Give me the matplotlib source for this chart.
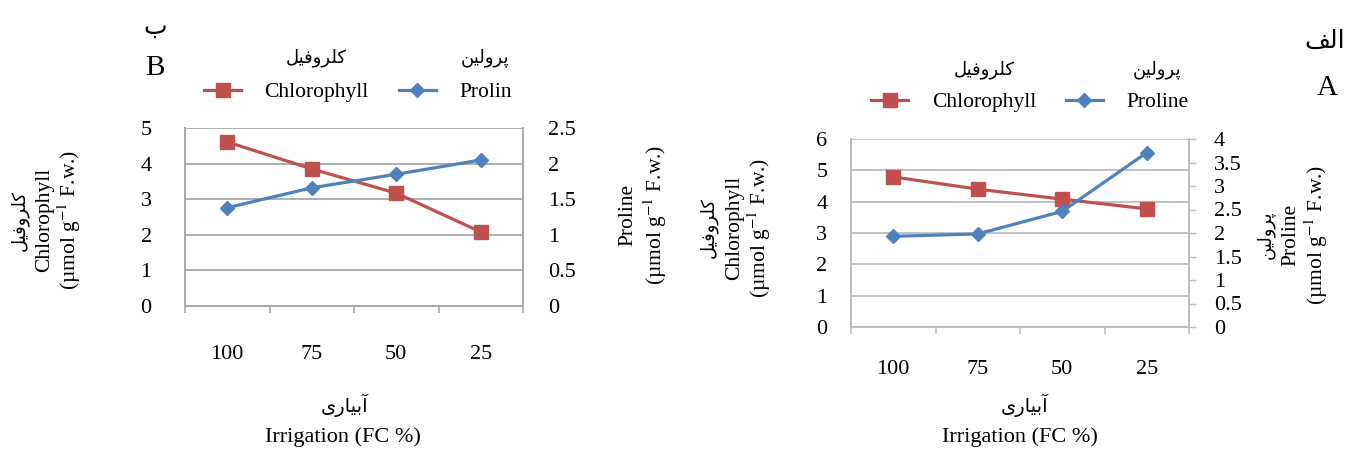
import matplotlib
matplotlib.use('Agg')
import matplotlib.pyplot as plt
from matplotlib.ticker import MultipleLocator, FuncFormatter

plt.rcParams['font.family'] = ['Liberation Serif', 'DejaVu Sans']
plt.rcParams['mathtext.fontset'] = 'stix'

# data
irrigation = ['100', '75', '50', '25']
chl_b = [4.61, 3.85, 3.17, 2.08]
pro_b = [1.38, 1.66, 1.85, 2.05]
chl_a = [4.79, 4.40, 4.08, 3.77]
pro_a = [1.93, 1.98, 2.46, 3.71]

fa_chl = 'کلروفیل'
fa_pro = 'پرولین'
fa_irr = 'آبیاری'
fa_b = 'ب'
fa_a = 'الف'
unit = r'(µmol g$^{-1}$ F.w.)'

RED = '#c0504d'
BLUE = '#4f81bd'
W, H = 1349, 450

# matplotlib has no Arabic shaping: pick presentation forms by hand
# (isolated, final, initial, medial)
FORMS = {
    'ک': ('\uFB8E', '\uFB8F', '\uFB90', '\uFB91'),
    'ل': ('\uFEDD', '\uFEDE', '\uFEDF', '\uFEE0'),
    'ر': ('\uFEAD', '\uFEAE', None, None),
    'و': ('\uFEED', '\uFEEE', None, None),
    'ف': ('\uFED1', '\uFED2', '\uFED3', '\uFED4'),
    'ی': ('\uFBFC', '\uFBFD', '\uFBFE', '\uFBFF'),
    'پ': ('\uFB56', '\uFB57', '\uFB58', '\uFB59'),
    'ن': ('\uFEE5', '\uFEE6', '\uFEE7', '\uFEE8'),
    'آ': ('\uFE81', '\uFE82', None, None),
    'ب': ('\uFE8F', '\uFE90', '\uFE91', '\uFE92'),
    'ا': ('\uFE8D', '\uFE8E', None, None),
}


def shape(word):
    out = []
    for i, c in enumerate(word):
        if c not in FORMS:
            out.append(c)
            continue
        prev = word[i - 1] if i > 0 else None
        nxt = word[i + 1] if i + 1 < len(word) else None
        join_prev = prev in FORMS and FORMS[prev][2] is not None
        join_next = nxt in FORMS and FORMS[c][2] is not None
        iso, fin, ini, med = FORMS[c]
        if join_prev and join_next:
            out.append(med)
        elif join_prev:
            out.append(fin)
        elif join_next:
            out.append(ini)
        else:
            out.append(iso)
    return ''.join(reversed(out))


def px(x, y):
    return x / W, 1 - y / H


fig = plt.figure(figsize=(W / 100, H / 100), dpi=100)


def panel(rect, chl, pro, chl_max, pro_max, grid_color, xpad, lpad, rpad, right_ticks):
    ax = fig.add_axes(rect)
    x = range(len(irrigation))
    l1, = ax.plot(x, chl, color=RED, marker='s', ms=9.5, lw=2.3, zorder=3)
    ax2 = ax.twinx()
    l2, = ax2.plot(x, pro, color=BLUE, marker='D', ms=7, lw=2.3, zorder=3)

    ax.set_xlim(-0.5, len(irrigation) - 0.5)
    ax.set_xticks(list(x), irrigation)
    ax.set_xticks([i - 0.5 for i in range(len(irrigation) + 1)], minor=True)
    ax.tick_params(axis='x', which='major', length=0, pad=xpad, labelsize=16)
    ax.tick_params(axis='x', which='minor', length=5, width=1.2, color=grid_color)

    fmt = FuncFormatter(lambda v, _: f'{v:g}')
    ax.set_ylim(0, chl_max)
    ax.yaxis.set_major_locator(MultipleLocator(1))
    ax.yaxis.set_major_formatter(fmt)
    ax.tick_params(axis='y', length=0, pad=lpad, labelsize=16)
    ax.grid(axis='y', color=grid_color, lw=1.3)
    ax.set_axisbelow(True)

    ax2.set_ylim(0, pro_max)
    ax2.yaxis.set_major_locator(MultipleLocator(0.5))
    ax2.yaxis.set_major_formatter(fmt)
    ax2.tick_params(axis='y', length=5 if right_ticks else 0, width=1, color=grid_color,
                    pad=rpad, labelsize=16)

    for a in (ax, ax2):
        a.spines['top'].set_visible(False)
        for s in ('left', 'right', 'bottom'):
            a.spines[s].set_color(grid_color)
            a.spines[s].set_linewidth(1.3)
    return l1, l2


def legend(handles, labels, center, fa_labels, fa_dy):
    leg = fig.legend(handles, labels, loc='center', bbox_to_anchor=px(*center), ncol=2,
                     frameon=False, fontsize=15.5, handlelength=1.7, handletextpad=1.1,
                     columnspacing=1.4)
    fig.canvas.draw()
    for t, fa in zip(leg.get_texts(), fa_labels):
        bb = t.get_window_extent()
        cx = (bb.x0 + bb.x1) / 2
        cy = (bb.y0 + bb.y1) / 2
        fig.text(cx / W, (cy + fa_dy) / H, shape(fa), fontsize=13,
                 ha='center', va='center')


def vlabel(lines):
    # one rotated line per (x, y, text, size)
    for x, y, s, size in lines:
        fig.text(*px(x, y), s, rotation=90, ha='center', va='center', fontsize=size)


# panel B (left)
lb = panel([185 / W, 144 / H, 338 / W, 178 / H], chl_b, pro_b, 5, 2.5,
           '#a9a9a9', 28, 24, 18, False)
legend(lb, ['Chlorophyll', 'Prolin'], (358, 92), [fa_chl, fa_pro], 35)

# panel A (right)
la = panel([851 / W, 123 / H, 338 / W, 188 / H], chl_a, pro_a, 6, 4,
           '#bdbdbd', 24, 17, 13, True)
legend(la, ['Chlorophyll', 'Proline'], (1030, 102), [fa_chl, fa_pro], 33)

# axis titles
vlabel([(19, 220, shape(fa_chl), 13), (45, 220, 'Chlorophyll', 15.5), (69, 220, unit, 15.5)])
vlabel([(628, 215, 'Proline', 15.5), (655, 215, unit, 15.5)])
vlabel([(708, 228, shape(fa_chl), 13), (735, 228, 'Chlorophyll', 15.5), (759, 228, unit, 15.5)])
vlabel([(1265, 235, shape(fa_pro), 13), (1291, 235, 'Proline', 15.5), (1316, 235, unit, 15.5)])

fig.text(*px(345, 405), shape(fa_irr), fontsize=14, ha='center', va='center')
fig.text(*px(343, 437), 'Irrigation (FC %)', fontsize=16, ha='center', va='center')
fig.text(*px(1025, 405), shape(fa_irr), fontsize=14, ha='center', va='center')
fig.text(*px(1020, 437), 'Irrigation (FC %)', fontsize=16, ha='center', va='center')

# panel letters
fig.text(*px(155, 28), shape(fa_b), fontsize=18, ha='center', va='center')
fig.text(*px(155, 68), 'B', fontsize=21, ha='center', va='center')
fig.text(*px(1325, 42), shape(fa_a), fontsize=18, ha='center', va='center')
fig.text(*px(1327, 88), 'A', fontsize=21, ha='center', va='center')

fig.savefig('out.png', dpi=100)
